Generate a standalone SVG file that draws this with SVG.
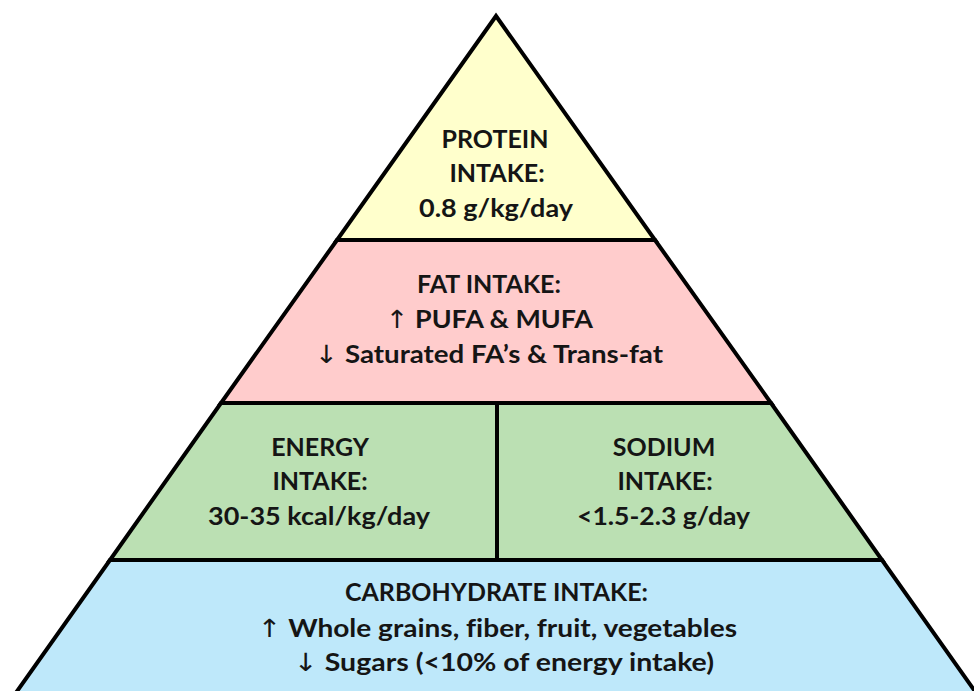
<svg xmlns="http://www.w3.org/2000/svg" width="974" height="691" viewBox="0 0 974 691">
  <style>
    .tier { stroke: #000; stroke-width: 4; stroke-linejoin: miter; }
    .t { font-family: Lato, "Open Sans", "Liberation Sans", sans-serif; font-weight: 700; font-size: 25px; fill: #151515; text-anchor: middle; font-variant-ligatures: none; }
    .ar { font-family: "DejaVu Sans", sans-serif; font-weight: 400; }
  </style>
  <rect x="0" y="0" width="974" height="691" fill="#ffffff"/>
  <g id="tier-protein">
    <polygon class="tier" fill="#FFFFCC" points="496,16 655,240 337,240"/>
    <text class="t" x="495" y="148">PROTEIN</text>
    <text class="t" x="497" y="182">INTAKE:</text>
    <text class="t" x="496" y="217" textLength="154" lengthAdjust="spacingAndGlyphs">0.8 g/kg/day</text>
  </g>
  <g id="tier-fat">
    <polygon class="tier" fill="#FFCCCC" points="337,240 655,240 771,403 221,403"/>
    <text class="t" x="489" y="293">FAT INTAKE:</text>
    <text class="t" x="489.5" y="328" textLength="207" lengthAdjust="spacingAndGlyphs"><tspan class="ar">↑</tspan> PUFA &amp; MUFA</text>
    <text class="t" x="489" y="363" textLength="348" lengthAdjust="spacingAndGlyphs"><tspan class="ar">↓</tspan> Saturated FA’s &amp; Trans-fat</text>
  </g>
  <g id="tier-energy">
    <polygon class="tier" fill="#BBE0B3" points="221,403 497,403 497,560 110,560"/>
    <text class="t" x="320" y="456">ENERGY</text>
    <text class="t" x="320" y="490">INTAKE:</text>
    <text class="t" x="319" y="525" textLength="222" lengthAdjust="spacingAndGlyphs">30-35 kcal/kg/day</text>
  </g>
  <g id="tier-sodium">
    <polygon class="tier" fill="#BBE0B3" points="497,403 771,403 882,560 497,560"/>
    <text class="t" x="664" y="456">SODIUM</text>
    <text class="t" x="665" y="490">INTAKE:</text>
    <text class="t" x="663.5" y="525" textLength="173" lengthAdjust="spacingAndGlyphs">&lt;1.5-2.3 g/day</text>
  </g>
  <g id="tier-carbohydrate">
    <polygon class="tier" fill="#BEE8FA" points="110,560 882,560 984,704 8,704"/>
    <text class="t" x="496.5" y="601" textLength="303" lengthAdjust="spacingAndGlyphs">CARBOHYDRATE INTAKE:</text>
    <text class="t" x="497.5" y="637" textLength="479" lengthAdjust="spacingAndGlyphs"><tspan class="ar">↑</tspan> Whole grains, fiber, fruit, vegetables</text>
    <text class="t" x="504" y="671" textLength="420" lengthAdjust="spacingAndGlyphs"><tspan class="ar">↓</tspan> Sugars (&lt;10% of energy intake)</text>
  </g>
  <g id="connectors"></g>
</svg>
